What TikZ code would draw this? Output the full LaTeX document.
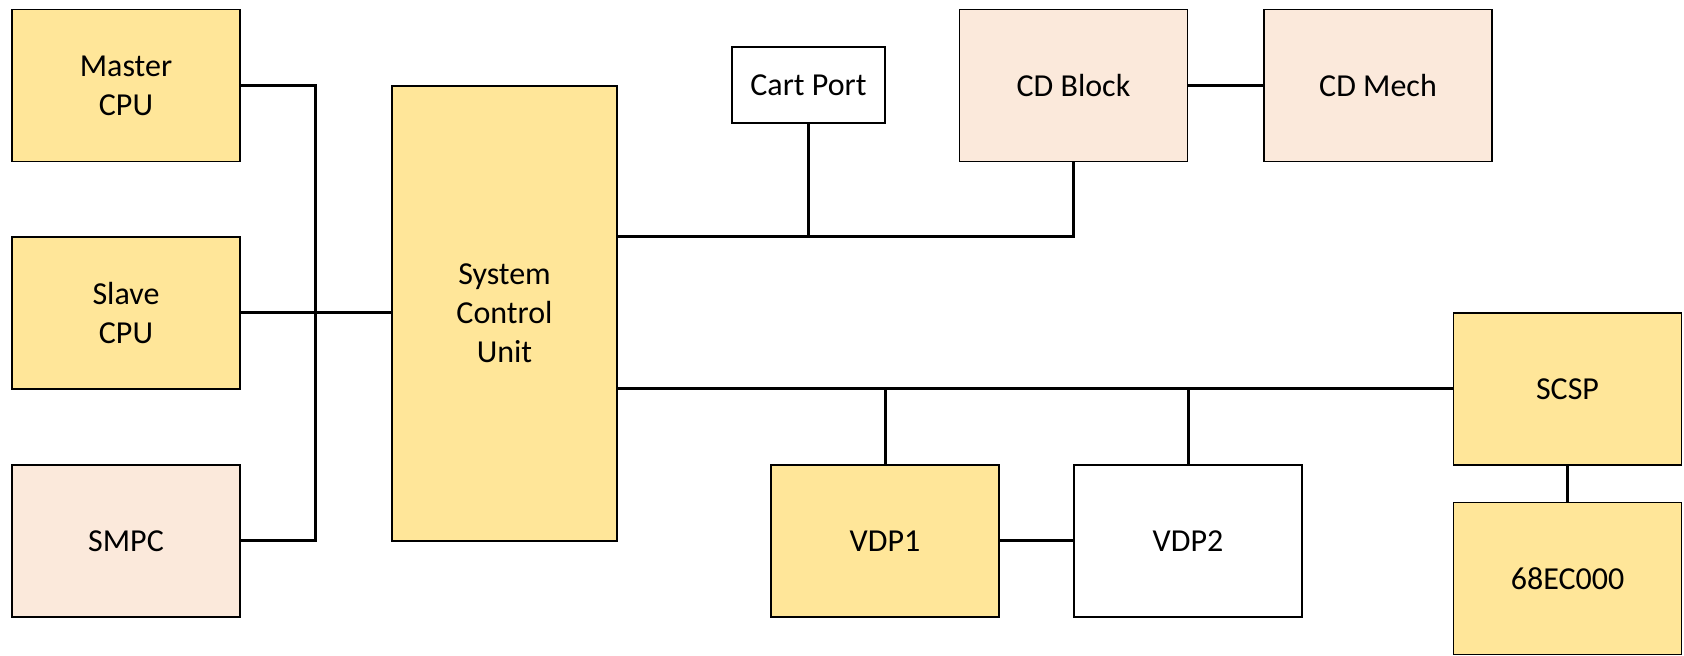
\documentclass[tikz,border=0pt]{standalone}
\usepackage{fontspec}
\setmainfont{Carlito}
\definecolor{chipyellow}{HTML}{FFE699}
\definecolor{chippeach}{HTML}{FBE9DB}
\begin{document}
\begin{tikzpicture}[x=0.5pt,y=-0.5pt,
  box/.style={draw=black, line width=0.6pt, inner sep=0pt, align=center,
    font=\fontsize{16}{19.5}\selectfont,
    minimum width=114pt, minimum height=76pt},
  ybox/.style={box, fill=chipyellow},
  pbox/.style={box, fill=chippeach},
  wbox/.style={box, fill=white},
  link/.style={line width=1.5pt, line cap=rect}]
\useasboundingbox (0,0) rectangle (1684,656);

% left column: processors and system manager
\node[ybox] (master) at (126,85.5) {Master\\CPU};
\node[ybox] (slave)  at (126,313)  {Slave\\CPU};
\node[pbox] (smpc)   at (126,541)  {SMPC};

% central controller
\node[ybox, minimum width=112.5pt, minimum height=227.5pt] (scu) at (504.5,313.5) {System\\Control\\Unit};

% upper bus devices
\node[wbox, minimum width=76.5pt, minimum height=38pt] (cart) at (808.5,85) {Cart Port};
\node[pbox] (cdb) at (1073.5,85.5) {CD Block};
\node[pbox] (cdm) at (1378,85.5)   {CD Mech};

% lower bus devices
\node[ybox] (vdp1) at (885,541)    {VDP1};
\node[wbox] (vdp2) at (1188,541)   {VDP2};
\node[ybox] (scsp) at (1567.5,389) {SCSP};
\node[ybox] (m68k) at (1567.5,578.5) {68EC000};

% CPU bus
\coordinate (bx) at (315,0);
\draw[link] (master.east) -| (bx |- smpc.east) -- (smpc.east);
\draw[link] (slave.east) -- (scu.west |- slave.east);

% upper bus
\coordinate (tb) at (617,237);
\draw[link] (scu.east |- tb) -| (cdb.south);
\draw[link] (cart.south) -- (cart.south |- tb);
\draw[link] (cdb.east) -- (cdm.west);

% lower bus
\draw[link] (scu.east |- scsp.west) -- (scsp.west);
\draw[link] (vdp1.north) -- (vdp1.north |- scsp.west);
\draw[link] (vdp2.north) -- (vdp2.north |- scsp.west);
\draw[link] (vdp1.east) -- (vdp2.west);
\draw[link] (scsp.south) -- (m68k.north);
\end{tikzpicture}
\end{document}
